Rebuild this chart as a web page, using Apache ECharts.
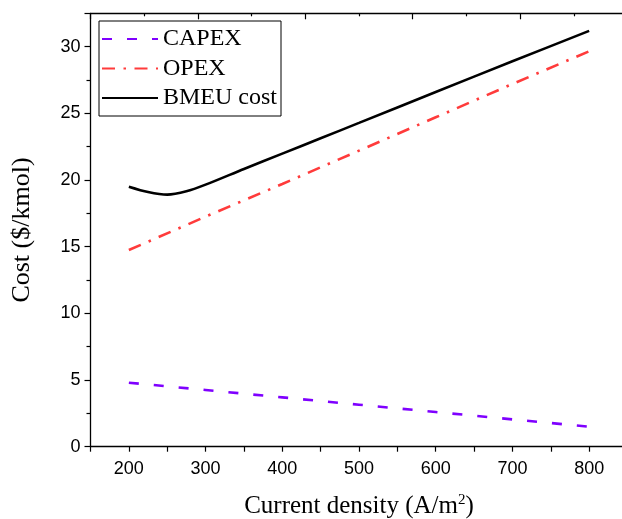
<!DOCTYPE html>
<html>
<head>
<meta charset="utf-8">
<script src="https://cdn.jsdelivr.net/npm/echarts@6/dist/echarts.min.js"></script>
<style>
  html, body { margin: 0; padding: 0; background: #fff; }
  #main { width: 622px; height: 519px; }
</style>
</head>
<body>
<div id="main"></div>
<script>
// current density (A/m2)
var xLine = [200, 300, 400, 500, 600, 700, 800];
var capex = [4.8, 4.25, 3.7, 3.15, 2.6, 2.05, 1.5];
var opex = [14.75, 17.25, 19.7, 22.2, 24.7, 27.2, 29.65];
var xBmeu = [200, 225, 250, 275, 300, 350, 400, 450, 500, 600, 700, 800];
var bmeu = [19.5, 19.1, 18.9, 19.15, 19.65, 20.83, 21.98, 23.13, 24.28, 26.6, 28.9, 31.18];
var xLabels = [200, 300, 400, 500, 600, 700, 800];
var seriesNames = ['CAPEX', 'OPEX', 'BMEU cost'];

function pairs(xs, ys) {
  var out = [];
  for (var i = 0; i < xs.length; i++) out.push([xs[i], ys[i]]);
  return out;
}

var sans = 'Liberation Sans';
var serif = 'Liberation Serif';
var axisLine = { show: true, onZero: false, lineStyle: { color: '#000', width: 1.3 } };

var chart = echarts.init(document.getElementById('main'), null, { renderer: 'canvas' });

var option = {
  backgroundColor: '#fff',
  animation: false,
  grid: { left: 90.5, top: 13.3, width: 537, height: 433.4, containLabel: false, outerBoundsMode: 'none' },
  legend: {
    data: seriesNames,
    orient: 'vertical',
    left: 99,
    top: 21,
    padding: [6, 4, 6, 2],
    itemGap: 5.5,
    itemWidth: 56,
    itemHeight: 24,
    borderColor: '#000',
    borderWidth: 1,
    itemStyle: { opacity: 0 },
    textStyle: { fontFamily: serif, fontSize: 24, color: '#000' }
  },
  xAxis: [{
    type: 'value', position: 'bottom', min: 150, max: 850, interval: 50,
    axisLine: axisLine,
    axisTick: { show: true, inside: false, length: 5, lineStyle: { color: '#000', width: 1.2 } },
    axisLabel: {
      margin: 13, fontFamily: sans, fontSize: 18, color: '#000',
      formatter: function (v) { return xLabels.indexOf(v) >= 0 ? String(v) : ''; }
    },
    splitLine: { show: false },
    name: 'Current density (A/m{sup|2})',
    nameLocation: 'middle',
    nameGap: 46,
    nameTextStyle: {
      fontFamily: serif, fontSize: 25, color: '#000',
      rich: { sup: { fontFamily: serif, fontSize: 15, color: '#000', verticalAlign: 'top', padding: [0, 0, 12, 0] } }
    }
  }, {
    type: 'value', position: 'top', min: 0, max: 10, interval: 2,
    axisLine: axisLine,
    axisTick: { show: true, inside: true, length: 6, lineStyle: { color: '#000', width: 1.2 } },
    minorTick: { show: true, splitNumber: 2, length: 3, lineStyle: { color: '#000', width: 1.2 } },
    axisLabel: { show: false },
    splitLine: { show: false }
  }],
  yAxis: [{
    type: 'value', position: 'left', min: 0, max: 32.5, interval: 5,
    axisLine: axisLine,
    axisTick: { show: true, inside: false, length: 6, lineStyle: { color: '#000', width: 1.2 } },
    minorTick: { show: true, splitNumber: 2, length: 4, lineStyle: { color: '#000', width: 1.2 } },
    axisLabel: { margin: 10, fontFamily: sans, fontSize: 18, color: '#000', showMaxLabel: false },
    splitLine: { show: false },
    name: 'Cost ($/kmol)',
    nameLocation: 'middle',
    nameRotate: 90,
    nameGap: 55,
    nameTextStyle: { fontFamily: serif, fontSize: 26, color: '#000' }
  }, {
    type: 'value', position: 'right', min: 0, max: 5, interval: 1,
    axisLine: axisLine,
    axisTick: { show: true, inside: true, length: 4, lineStyle: { color: '#000', width: 1.2 } },
    axisLabel: { show: false },
    splitLine: { show: false }
  }],
  series: [{
    name: seriesNames[0], type: 'line', xAxisIndex: 0, yAxisIndex: 0,
    data: pairs(xLine, capex), symbol: 'none',
    lineStyle: { color: '#7f00ff', width: 2.6, type: [10, 15] },
    itemStyle: { color: '#7f00ff' }
  }, {
    name: seriesNames[1], type: 'line', xAxisIndex: 0, yAxisIndex: 0,
    data: pairs(xLine, opex), symbol: 'none',
    lineStyle: { color: '#ff3b3b', width: 2.6, type: [13, 8.5, 2.5, 8.5] },
    itemStyle: { color: '#ff3b3b' }
  }, {
    name: seriesNames[2], type: 'line', xAxisIndex: 0, yAxisIndex: 0,
    data: pairs(xBmeu, bmeu), symbol: 'none', smooth: 0.3,
    lineStyle: { color: '#000', width: 2.6 },
    itemStyle: { color: '#000' }
  }]
};

chart.setOption(option);
</script>
</body>
</html>
